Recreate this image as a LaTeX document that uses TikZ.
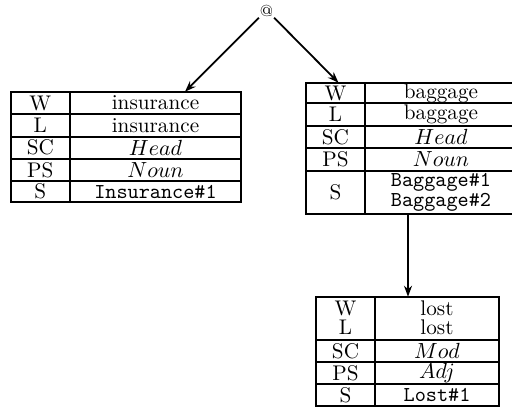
\documentclass[tikz,border=0pt]{standalone}
\usetikzlibrary{arrows.meta}
\begin{document}
\begin{tikzpicture}[x=0.5pt,y=-0.5pt,
  cell/.style={inner sep=0pt, anchor=center, font=\fontsize{10.6}{12}\selectfont},
  tbl/.style={draw, line width=0.9pt, inner sep=0pt, outer sep=0pt},
  rule/.style={line width=0.9pt},
  link/.style={line width=0.9pt, -{Stealth[length=5.5pt,width=4pt]}}]
\useasboundingbox (0,0) rectangle (512,409);
\clip (0,0) rectangle (512,409);
% root
\node[inner sep=0.3pt, font=\footnotesize] (at) at (266.5,11) {@};
% left table
\node[tbl, minimum width=230.3pt*0.5, minimum height=110.6pt*0.5, anchor=north west] (lt) at (10.7,91.7) {};
\draw[rule] (70,91.7) -- (70,202.3);
\foreach \y in {114.3,136.7,158.7,181} \draw[rule] (10.7,\y) -- (241,\y);
\node[cell] (lt-w) at (40.3,103) {W};
\node[cell] (lt-wv) at (155.5,103) {insurance};
\node[cell] (lt-l) at (40.3,125.5) {L};
\node[cell] (lt-lv) at (155.5,125.5) {insurance};
\node[cell] (lt-sc) at (40.3,147.7) {SC};
\node[cell] (lt-scv) at (155.5,147.7) {$Head$};
\node[cell] (lt-ps) at (40.3,169.8) {PS};
\node[cell] (lt-psv) at (155.5,169.8) {$Noun$};
\node[cell] (lt-s) at (40.3,191.6) {S};
\node[cell] (lt-sv) at (155.5,191.6) {\texttt{Insurance\#1}};
% right table
\node[tbl, minimum width=211pt*0.5, minimum height=131.3pt*0.5, anchor=north west] (rt) at (306,82.7) {};
\draw[rule] (365,82.7) -- (365,214);
\foreach \y in {103.3,126,148.3,170.7} \draw[rule] (306,\y) -- (517,\y);
\node[cell] (rt-w) at (335.5,93) {W};
\node[cell] (rt-wv) at (441,93) {baggage};
\node[cell] (rt-l) at (335.5,114.6) {L};
\node[cell] (rt-lv) at (441,114.6) {baggage};
\node[cell] (rt-sc) at (335.5,137.1) {SC};
\node[cell] (rt-scv) at (441,137.1) {$Head$};
\node[cell] (rt-ps) at (335.5,159.5) {PS};
\node[cell] (rt-psv) at (441,159.5) {$Noun$};
\node[cell] (rt-s) at (335.5,192.3) {S};
\node[cell] (rt-sv1) at (441,182.7) {\texttt{Baggage\#1}};
\node[cell] (rt-sv2) at (441,202.5) {\texttt{Baggage\#2}};
% bottom table
\node[tbl, minimum width=183pt*0.5, minimum height=109pt*0.5, anchor=north west] (bt) at (316,296.7) {};
\draw[rule] (375,296.7) -- (375,405.7);
\foreach \y in {340,362.3,384} \draw[rule] (316,\y) -- (499,\y);
\node[cell] (bt-w) at (345.5,308.3) {W};
\node[cell] (bt-wv) at (437,308.3) {lost};
\node[cell] (bt-l) at (345.5,327.7) {L};
\node[cell] (bt-lv) at (437,327.7) {lost};
\node[cell] (bt-sc) at (345.5,351.2) {SC};
\node[cell] (bt-scv) at (437,351.2) {$Mod$};
\node[cell] (bt-ps) at (345.5,373.2) {PS};
\node[cell] (bt-psv) at (437,373.2) {$Adj$};
\node[cell] (bt-s) at (345.5,394.9) {S};
\node[cell] (bt-sv) at (437,394.9) {\texttt{Lost\#1}};
% connectors
\coordinate (lt-in) at (185,91.7);
\coordinate (rt-in) at (338.5,82.7);
\coordinate (rt-out) at (408,214);
\coordinate (bt-in) at (408,296.7);
\draw[link] (at.south west) -- (lt-in);
\draw[link] (at.south east) -- (rt-in);
\draw[link] (rt-out) -- (bt-in);
\end{tikzpicture}
\end{document}
